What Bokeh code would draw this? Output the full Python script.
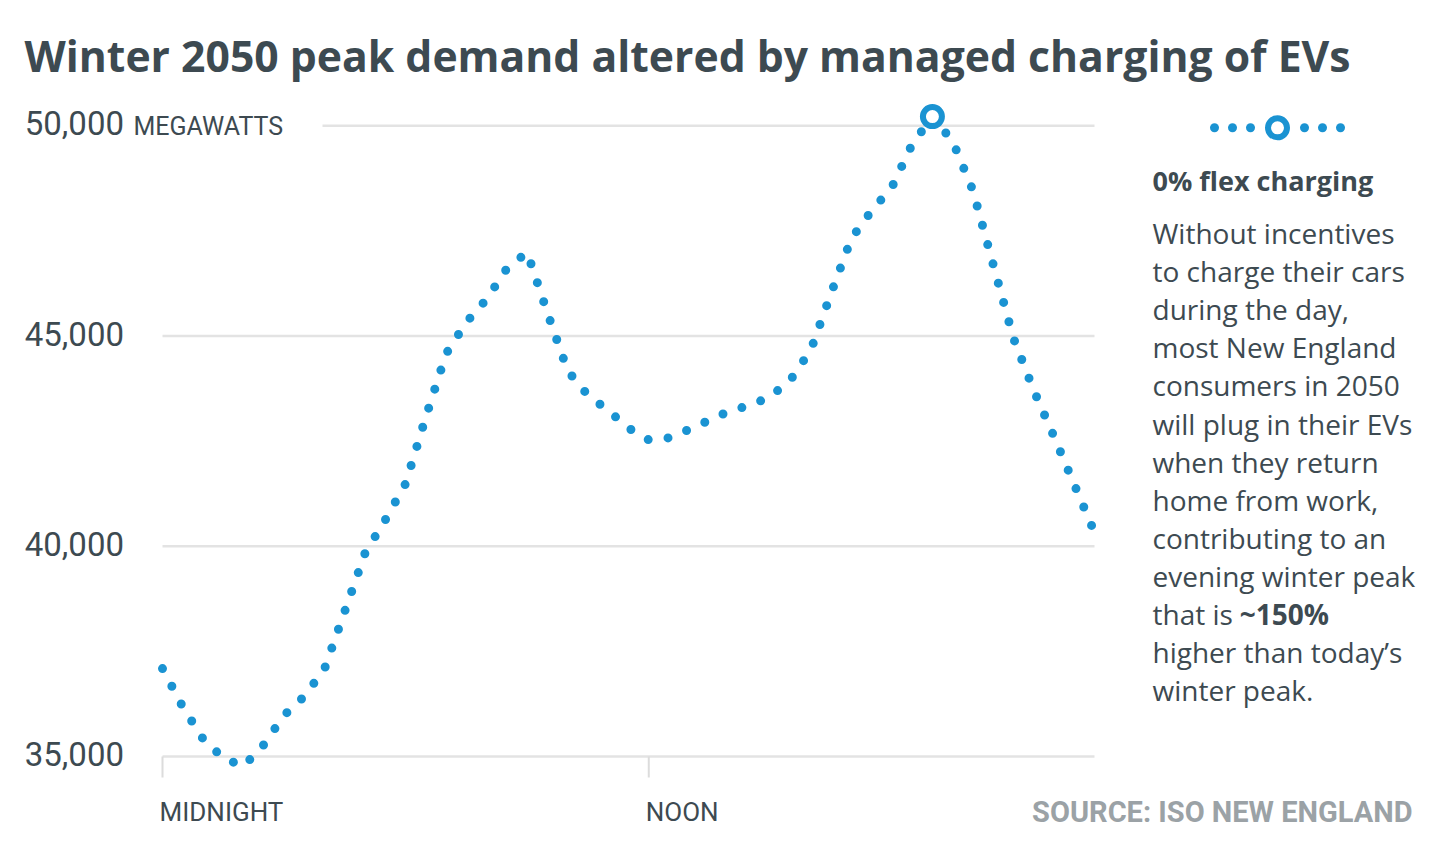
from bokeh.plotting import figure
from bokeh.models import Range1d, Label
from bokeh.embed import file_html
from bokeh.resources import INLINE

# ---------------- data ----------------
hours = [i * 0.5 for i in range(47)]  # midnight .. 23:00, half-hourly
demand_mw = [
    37090, 36180, 35420, 34960, 34770, 35280, 35980, 36430, 37090, 38460,
    39840, 40630, 41490, 43080, 44580, 45330, 45880, 46610, 46990, 45550,
    44170, 43590, 43230, 42810, 42530, 42580, 42780, 43000, 43220, 43350,
    43560, 43960, 44670, 46020, 47320, 47980, 48540, 49560, 50220, 49630,
    48460, 46700, 44950, 43710, 42610, 41470, 40330,
]
y_ticks = [35000, 40000, 45000, 50000]
x_ticks = [0, 12]
x_tick_labels = ["MIDNIGHT", "NOON"]
title_text = "Winter 2050 peak demand altered by managed charging of EVs"
unit_text = "MEGAWATTS"
legend_title = "0% flex charging"
body_lines = [
    "Without incentives",
    "to charge their cars",
    "during the day,",
    "most New England",
    "consumers in 2050",
    "will plug in their EVs",
    "when they return",
    "home from work,",
    "contributing to an",
    "evening winter peak",
    "that is ",
    "higher than today\u2019s",
    "winter peak.",
]
bold_text = "~150%"
source_text = "SOURCE: ISO NEW ENGLAND"

# ---------------- style / layout ----------------
BLUE = "#1a93d2"
DARK = "#3d4a51"
GRID = "#e3e3e3"
TICK = "#dcdcdc"
GRAY = "#9ba2a6"
COND = "Roboto"
SANS = "Open Sans"

W, H = 1422, 847
X0PX = 162                          # page x of midnight
PXH = (1094 - 162) / 23.0           # px per hour
PPM = (756 - 125.3) / 15000.0       # px per MW (35,000 at y=756)
BASE_K = 0.4                        # baseline correction (em)

def X(px):
    return (px - X0PX) / PXH

def Y(py):
    return 35000 + (756 - py) / PPM

p = figure(width=W, height=H, output_backend="svg", toolbar_location=None,
           x_range=Range1d(X(0), X(W)), y_range=Range1d(Y(H), Y(0)),
           x_axis_location=None, y_axis_location=None,
           min_border=0)
p.outline_line_color = None
p.background_fill_color = "white"
p.border_fill_color = "white"
p.xgrid.visible = False
p.ygrid.visible = False

# grid lines (stop at end of data; top one leaves room for unit label)
gx0 = [hours[0]] * (len(y_ticks) - 1) + [X(322)]
gx1 = [hours[-1]] * len(y_ticks)
p.segment(x0=gx0, x1=gx1, y0=y_ticks, y1=y_ticks, line_color=GRID,
          line_width=2.5, level="underlay")

# x tick marks below the baseline
p.segment(x0=x_ticks, x1=x_ticks, y0=[y_ticks[0]] * len(x_ticks),
          y1=[Y(777)] * len(x_ticks), line_color=TICK, line_width=2,
          level="underlay")

# dotted demand line
p.line(hours, demand_mw, line_color=BLUE, line_width=9, line_dash="0 20",
       line_cap="round")

# peak marker
ipk = max(range(len(demand_mw)), key=lambda i: demand_mw[i])
p.scatter([hours[ipk]], [demand_mw[ipk]], size=19, line_width=6,
          line_color=BLUE, fill_color="white")

# legend sample
lx = 1277
ly = Y(127.3)
offs = [-63, -45, -27, 27, 45, 63]
p.scatter([X(lx + o) for o in offs], [ly] * len(offs), size=9,
          line_color=None, fill_color=BLUE)
p.scatter([X(lx)], [ly], size=19, line_width=6, line_color=BLUE,
          fill_color="white")

def lab(text, px, py, font, size, color=DARK, style="normal", align="left"):
    """px, py: page position of the text's left/right end and baseline."""
    py = py - BASE_K * size
    p.add_layout(Label(x=X(px), y=Y(py), text=text, text_font=font,
                       text_font_size=f"{size}px", text_color=color,
                       text_font_style=style, text_align=align,
                       text_baseline="alphabetic"))

# title
lab(title_text, 24, 71.7, SANS, 42.7, style="bold")

# y tick labels
for t in y_ticks:
    gy = 756 - (t - 35000) * PPM
    lab(f"{t:,}", 123.5, gy + 10.7, COND, 33, align="right")
lab(unit_text, 133, 136, COND, 25)

# x tick labels
for t, xt in zip(x_tick_labels, x_ticks):
    lab(t, X0PX + xt * PXH - 3, 822, COND, 26)

# source
lab(source_text, 1412, 823, COND, 29, color=GRAY, style="bold", align="right")

# legend text / annotation
LINE0, STEP = 243.7, 38.1
lab(legend_title, 1152, 191, SANS, 27, style="bold")
for i, t in enumerate(body_lines):
    lab(t, 1152, LINE0 + i * STEP, SANS, 28)
lab(bold_text, 1239.3, LINE0 + 10 * STEP, SANS, 28, style="bold")

open("out.html", "w").write(file_html(p, INLINE))
